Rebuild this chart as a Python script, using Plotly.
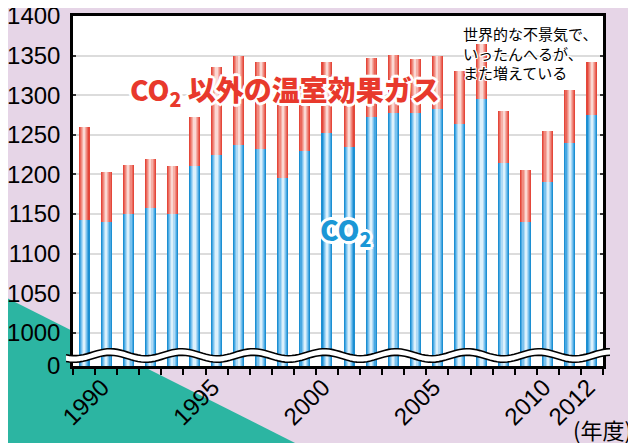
import numpy as np
import plotly.graph_objects as go

# ---------------- data ----------------
categories = ["基準年", "1990", "1991", "1992", "1993", "1994", "1995", "1996",
              "1997", "1998", "1999", "2000", "2001", "2002", "2003", "2004",
              "2005", "2006", "2007", "2008", "2009", "2010", "2011", "2012"]
co2 = [1143, 1140, 1150, 1158, 1150, 1210, 1224, 1237, 1232, 1196, 1230, 1252,
       1235, 1273, 1278, 1277, 1282, 1263, 1295, 1214, 1140, 1191, 1240, 1275]
other_gases = [117, 63, 62, 62, 61, 62, 112, 113, 110, 104, 88, 90,
               82, 74, 73, 69, 68, 68, 70, 66, 65, 64, 66, 67]
label_years = ["1990", "1995", "2000", "2005", "2010", "2012"]
y_tickvals = [958, 1000, 1050, 1100, 1150, 1200, 1250, 1300, 1350, 1400]
y_ticktext = ["0", "1000", "1050", "1100", "1150", "1200", "1250", "1300", "1350", "1400"]
y_range = [958, 1400]

total = [c + o for c, o in zip(co2, other_gases)]

# ---------------- geometry (page pixels; the page has an 8px body margin) ----------------
OFF = 8
W, H = 636 - OFF, 443 - OFF
PL, PR, PT, PB = 73, 603, 16.5, 366          # plot area edges in page pixels
ML, MT = PL - OFF, round(PT - OFF)
MR, MB = W - (PR - OFF), H - (PB - OFF)
PW, PH = W - ML - MR, H - MT - MB


def px(x):
    return (x - OFF - ML) / PW


def py(y):
    return (H - MB - (y - OFF)) / PH


fig = go.Figure()

# gradient-looking bars: several overlaid bars of decreasing width
layers = [
    (0.50, "#1c8fd2", "#e4473a"),
    (0.40, "#48a8e2", "#ea675b"),
    (0.30, "#7cc3ee", "#f08b80"),
    (0.20, "#afdaf5", "#f5b0a7"),
    (0.10, "#dcf1fc", "#fbd8d3"),
]
for w, cb, cr in layers:
    fig.add_bar(x=categories, y=co2, width=w, marker=dict(color=cb, line_width=0),
                hoverinfo="skip", showlegend=False)
    fig.add_bar(x=categories, y=other_gases, base=co2, width=w,
                marker=dict(color=cr, line_width=0), hoverinfo="skip", showlegend=False)

shapes = []
# teal triangle in bottom-left corner (decoration)
shapes.append(dict(type="path", xref="paper", yref="paper", layer="below",
                   path=f"M{px(-5)},{py(292)} L{px(305)},{py(448)} L{px(-5)},{py(448)} Z",
                   fillcolor="#2cb5a2", line_width=0))
# white plot area on top of triangle
shapes.append(dict(type="rect", xref="x domain", yref="y domain", layer="below",
                   x0=0, x1=1, y0=0, y1=1, fillcolor="white", line_width=0))

# wavy axis-break band (decoration)
xs = np.linspace(66, 610, 160)
yc = 355.5 - 3.5 * np.cos(2 * np.pi * (xs - 110) / 71.5)
top = yc - 3.3
bot = yc + 3.3
band = "M" + " L".join(f"{px(a)},{py(b)}" for a, b in zip(xs, top))
band += " L" + " L".join(f"{px(a)},{py(b)}" for a, b in zip(xs[::-1], bot[::-1])) + " Z"
shapes.append(dict(type="path", xref="paper", yref="paper", layer="above",
                   path=band, fillcolor="white", line_width=0))
for arr in (top, bot):
    p = "M" + " L".join(f"{px(a)},{py(b)}" for a, b in zip(xs, arr))
    shapes.append(dict(type="path", xref="paper", yref="paper", layer="above",
                       path=p, line=dict(color="black", width=1.6)))

outline = ", ".join(f"{dx}px {dy}px 0px white" for dx, dy in
                    [(2, 0), (-2, 0), (0, 2), (0, -2), (2, 2), (-2, -2), (2, -2), (-2, 2),
                     (3, 0), (-3, 0), (0, 3), (0, -3)])
outline_small = ", ".join(f"{dx}px {dy}px 0px white" for dx, dy in
                          [(1, 0), (-1, 0), (0, 1), (0, -1), (1, 1), (-1, -1), (1, -1), (-1, 1)])

i09 = categories.index("2009")
annotations = [
    dict(text="CO<sub>2</sub> 以外の温室効果ガス", xref="paper", yref="paper",
         x=px(285), y=py(67), showarrow=False,
         font=dict(family="Noto Sans CJK JP", size=28, color="#e8392c", weight=900,
                   shadow=outline)),
    dict(text="CO<sub>2</sub>", xref="paper", yref="paper",
         x=px(345), y=py(231), showarrow=False,
         font=dict(family="Noto Sans CJK JP", size=28, color="#1b97d6", weight=900,
                   shadow=outline)),
    dict(text="世界的な不景気で、<br>いったんへるが、<br>また増えている", xref="paper", yref="paper",
         x=px(461), y=py(21), xanchor="left", yanchor="top", align="left", showarrow=False,
         font=dict(family="Noto Sans CJK JP", size=15, color="black", shadow=outline_small)),
    dict(text="", x=categories[i09], y=total[i09], xref="x", yref="y",
         showarrow=True, ax=0, ay=-88, arrowhead=2, arrowsize=0.75, arrowwidth=4,
         arrowcolor="black", standoff=4),
    dict(text="(年度)", xref="paper", yref="paper", x=px(571), y=py(447),
         xanchor="left", yanchor="bottom", showarrow=False,
         font=dict(family="Noto Sans CJK JP", size=22, color="black")),
    dict(text="(100万トン-CO<sub>2</sub> 換算)", xref="paper", yref="paper", x=px(-2), y=py(9),
         xanchor="left", yanchor="bottom", showarrow=False,
         font=dict(family="Noto Sans CJK JP", size=24, color="black")),
]

fig.update_layout(
    width=W, height=H,
    margin=dict(l=ML, r=MR, t=MT, b=MB, pad=0, autoexpand=False),
    paper_bgcolor="#e6d5e7",
    plot_bgcolor="rgba(0,0,0,0)",
    barmode="overlay",
    bargap=0,
    showlegend=False,
    shapes=shapes,
    annotations=annotations,
    font=dict(family="Liberation Sans, Arial", color="black"),
    xaxis=dict(type="category", range=[-0.5, len(categories) - 0.5], automargin=False,
               tickmode="array", tickvals=categories,
               ticktext=[c if c in label_years else "" for c in categories],
               tickson="boundaries", ticks="outside", ticklen=6, tickwidth=2,
               tickcolor="black", tickangle=-45,
               ticklabelshift=-4, ticklabelstandoff=-5, ticklabeloverflow="allow",
               tickfont=dict(family="Liberation Sans, Arial", size=24, color="black"),
               showline=True, linewidth=2.5, linecolor="black", mirror=True,
               showgrid=False, zeroline=False),
    yaxis=dict(range=y_range, tickmode="array", tickvals=y_tickvals, ticktext=y_ticktext,
               automargin=False, ticklabeloverflow="allow",
               ticks="inside", ticklen=3, tickwidth=1.5, tickcolor="#333333",
               tickfont=dict(family="Liberation Sans, Arial", size=24, color="black"),
               showline=True, linewidth=2.5, linecolor="black", mirror="ticks",
               showgrid=True, gridcolor="#dcdcdc", gridwidth=1.5, zeroline=False,
               ticklabelstandoff=5),
)

fig.write_html("out.html")
